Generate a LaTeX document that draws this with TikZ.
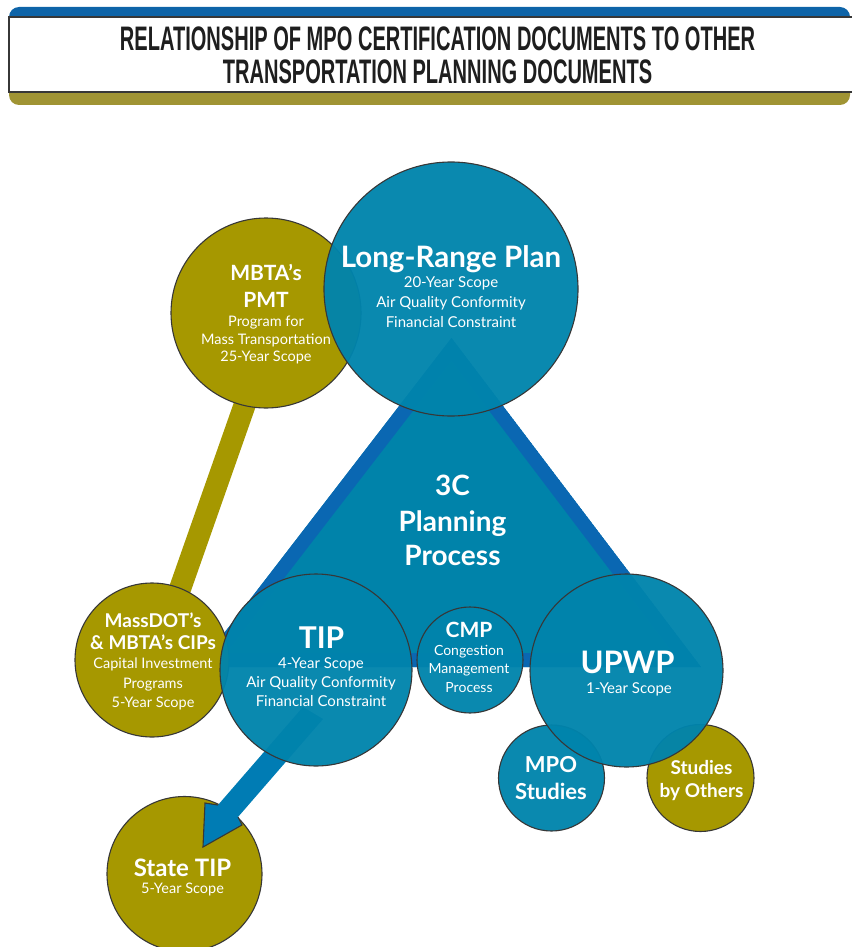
\documentclass[tikz,border=0pt]{standalone}
\usepackage{fontspec}
\setmainfont{Lato}
\newfontfamily\titlefont{Liberation Sans}[FakeStretch=0.59]
\usetikzlibrary{calc}
\pgfdeclarelayer{bg}
\pgfsetlayers{bg,main}

\definecolor{circblue}{RGB}{0,132,172}
\definecolor{trifill}{RGB}{0,131,170}
\definecolor{triband}{RGB}{10,103,178}
\definecolor{olivec}{RGB}{166,152,0}
\definecolor{bannerblue}{RGB}{14,100,168}
\definecolor{banneroliv}{RGB}{160,148,52}
\definecolor{edgegray}{RGB}{55,55,55}
\definecolor{arrowblue}{RGB}{0,124,180}
\definecolor{titleink}{RGB}{30,30,30}

\newcommand\fsz[1]{\fontsize{#1}{#1}\selectfont}

\begin{document}
\begin{tikzpicture}[x=1pt,y=-1pt,
  disc/.style={circle, inner sep=0pt, outer sep=0pt, draw=edgegray, line width=1.1pt, minimum size=#1},
  bluedisc/.style={disc=#1, fill=circblue, fill opacity=0.96},
  olivedisc/.style={disc=#1, fill=olivec},
  lbl/.style={text=white, inner sep=0pt, anchor=base, font=\bfseries\fsz{#1}},
  sub/.style={text=white, inner sep=0pt, anchor=base, font=\fsz{#1}},
  titletext/.style={text=titleink, inner sep=0pt, anchor=base, font=\titlefont\bfseries\fsz{34}},
]
\useasboundingbox (0,0) rectangle (851,947);

% ---- title banner ----
\fill[bannerblue, rounded corners=10pt] (9,7) rectangle (850,50);
\fill[banneroliv, rounded corners=10pt] (9,50) rectangle (850,105);
\filldraw[fill=white, draw=edgegray, line width=1.3pt] (9,17) rectangle (870,92);
\node[titletext] (title1) at (437.5,51) {RELATIONSHIP OF MPO CERTIFICATION DOCUMENTS TO OTHER};
\node[titletext] (title2) at (437.5,84) {TRANSPORTATION PLANNING DOCUMENTS};

% ---- documents ----
\node[olivedisc=190pt] (pmt) at (266,313) {};
\node[bluedisc=254pt] (lrp) at (451,289) {};
\node[olivedisc=154pt] (cips) at (152,660) {};
\node[olivedisc=155pt] (statetip) at (184.5,874) {};

% arrow from the TIP down to the State TIP
\coordinate (a1) at (303,707);
\coordinate (a2) at (218,805);
\coordinate (a3) at (205,803);
\coordinate (a4) at (203,847);
\coordinate (a5) at (242,825);
\coordinate (a6) at (238,817);
\coordinate (a7) at (323,719);
\fill[arrowblue] (a1) -- (a2) -- (a3) -- (a4) -- (a5) -- (a6) -- (a7) -- cycle;
\draw[edgegray, line width=1.1pt, line join=miter] (a2) -- (a3) -- (a4) -- (a5) -- (a6);

\node[bluedisc=192pt] (tip) at (316,670) {};
\node[bluedisc=106pt] (cmp) at (470,660) {};
\node[bluedisc=106pt] (mpo) at (551.5,778) {};
\node[olivedisc=107pt] (others) at (700.5,778) {};
\node[bluedisc=193pt] (upwp) at (626.5,670.5) {};

% ---- 3C planning triangle and the PMT link, underneath ----
\coordinate (apex) at (451.5,338);
\coordinate (cornerL) at (198,667);
\coordinate (cornerR) at (701,667);
\begin{pgfonlayer}{bg}
  \draw[olivec, line width=22pt] ([xshift=11pt]pmt.center) -- ([xshift=3pt]cips.center);
  \begin{scope}
    \clip (apex) -- (cornerL) -- (cornerR) -- cycle;
    \filldraw[fill=trifill, draw=triband, line width=28pt, line join=miter]
      (apex) -- (cornerL) -- (cornerR) -- cycle;
  \end{scope}
\end{pgfonlayer}

% ---- labels ----
\node[lbl=29.5] (lrp-1) at (451,267) {Long-Range Plan};
\node[sub=15] (lrp-2) at (451,287) {20-Year Scope};
\node[sub=15] (lrp-3) at (451,307) {Air Quality Conformity};
\node[sub=15] (lrp-4) at (451,327) {Financial Constraint};

\node[lbl=21] (pmt-1) at (266,280) {MBTA's};
\node[lbl=21] (pmt-2) at (266,307) {PMT};
\node[sub=14.5] (pmt-3) at (266,326) {Program for};
\node[sub=14.5] (pmt-4) at (266,344) {Mass Transportation};
\node[sub=14.5] (pmt-5) at (266,361) {25-Year Scope};

\node[lbl=28] (tri-1) at (452.5,495) {3C};
\node[lbl=28] (tri-2) at (452.5,531) {Planning};
\node[lbl=28] (tri-3) at (452.5,565) {Process};

\node[lbl=30] (tip-1) at (321.5,648) {TIP};
\node[sub=15] (tip-2) at (321,668) {4-Year Scope};
\node[sub=15] (tip-3) at (321,687) {Air Quality Conformity};
\node[sub=15] (tip-4) at (321,706) {Financial Constraint};

\node[lbl=21] (cmp-1) at (469,637) {CMP};
\node[sub=14] (cmp-2) at (469,655) {Congestion};
\node[sub=14] (cmp-3) at (469,673) {Management};
\node[sub=14] (cmp-4) at (469,692) {Process};

\node[lbl=31] (upwp-1) at (627.5,673) {UPWP};
\node[sub=15] (upwp-2) at (629,693) {1-Year Scope};

\node[lbl=22] (mpo-1) at (551,772) {MPO};
\node[lbl=22] (mpo-2) at (551,799) {Studies};

\node[lbl=19] (oth-1) at (701.5,774) {Studies};
\node[lbl=19] (oth-2) at (701.5,797) {by Others};

\node[lbl=19] (cips-1) at (153,627) {MassDOT's};
\node[lbl=19] (cips-2) at (153,649) {\& MBTA's CIPs};
\node[sub=14.5] (cips-3) at (153,668) {Capital Investment};
\node[sub=14.5] (cips-4) at (153,688) {Programs};
\node[sub=14.5] (cips-5) at (153,707) {5-Year Scope};

\node[lbl=24] (st-1) at (182.5,876) {State TIP};
\node[sub=14.5] (st-2) at (182.5,893) {5-Year Scope};
\end{tikzpicture}
\end{document}
